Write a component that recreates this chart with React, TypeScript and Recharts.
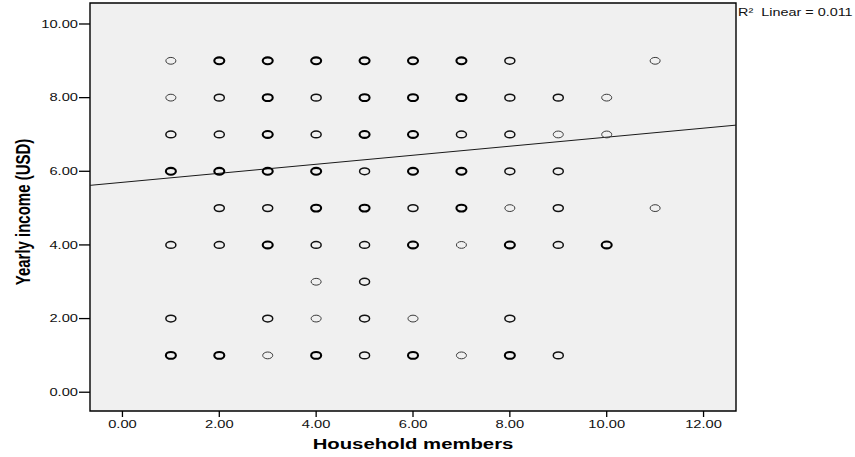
import React from 'react';
import { ScatterChart, Scatter, XAxis, YAxis, ReferenceArea, ReferenceLine } from 'recharts';

// ---- data ----
const xTicks = [0, 2, 4, 6, 8, 10, 12];
const yTicks = [0, 2, 4, 6, 8, 10];
const xDomain: [number, number] = [-0.67, 12.67];
const yDomain: [number, number] = [-0.51, 10.57];

// points drawn with heavy outlines (many overlapping cases)
const heavyPoints: [number, number][] = [
  [2, 9], [3, 9], [4, 9], [5, 9], [6, 9], [7, 9],
  [3, 8], [5, 8], [6, 8], [7, 8],
  [3, 7], [5, 7], [6, 7],
  [1, 6], [2, 6], [3, 6], [4, 6], [6, 6], [7, 6],
  [4, 5], [5, 5], [7, 5],
  [3, 4], [6, 4], [8, 4], [10, 4],
  [1, 1], [2, 1], [4, 1], [6, 1], [8, 1],
];
// points with medium outlines
const mediumPoints: [number, number][] = [
  [8, 9],
  [2, 8], [4, 8], [8, 8], [9, 8],
  [1, 7], [2, 7], [4, 7], [7, 7], [8, 7],
  [5, 6], [8, 6], [9, 6],
  [2, 5], [3, 5], [6, 5], [9, 5],
  [1, 4], [2, 4], [4, 4], [5, 4], [9, 4],
  [5, 3],
  [1, 2], [3, 2], [5, 2], [8, 2],
  [5, 1], [9, 1],
];
// single cases, thin outlines
const lightPoints: [number, number][] = [
  [1, 9], [11, 9],
  [1, 8], [10, 8],
  [9, 7], [10, 7],
  [8, 5], [11, 5],
  [7, 4],
  [4, 3],
  [4, 2], [6, 2],
  [3, 1], [7, 1],
];

const fitIntercept = 5.70;
const fitSlope = 0.1226;
const r2Label = 'R\u00B2  Linear = 0.011';
const xTitle = 'Household members';
const yTitle = 'Yearly income (USD)';

// ---- styling helpers ----
const FONT = '"Liberation Sans", Arial, sans-serif';
const SX = 1.4;

const toPts = (arr: [number, number][]) => arr.map(([x, y]) => ({ x, y }));

const makeShape = (sw: number, color: string) => (props: any) => {
  const { cx, cy } = props;
  if (cx == null || cy == null) return <g />;
  return <ellipse cx={cx} cy={cy} rx={5} ry={3.4} fill="none" stroke={color} strokeWidth={sw} />;
};

const YTick = (props: any) => {
  const { x, y, payload } = props;
  return (
    <g transform={`translate(${x},${y}) scale(${SX},1)`}>
      <text x={0} y={0} dy={3.7} textAnchor="end" fontFamily={FONT} fontSize={10.5} fill="#111">
        {Number(payload.value).toFixed(2)}
      </text>
    </g>
  );
};

const XTick = (props: any) => {
  const { x, y, payload } = props;
  return (
    <g transform={`translate(${x},${y + 9}) scale(${SX},1)`}>
      <text x={0} y={0} textAnchor="middle" fontFamily={FONT} fontSize={10.5} fill="#111">
        {Number(payload.value).toFixed(2)}
      </text>
    </g>
  );
};

const XTitle = (props: any) => {
  const vb = props.viewBox || { x: 90, y: 411, width: 646, height: 46 };
  const cx = vb.x + vb.width / 2;
  const by = vb.y + 38;
  return (
    <g transform={`translate(${cx},${by}) scale(${SX},1)`}>
      <text x={0} y={0} textAnchor="middle" fontFamily={FONT} fontWeight="bold" fontSize={14.5} fill="#000">
        {xTitle}
      </text>
    </g>
  );
};

const YTitle = (props: any) => {
  const vb = props.viewBox || { x: 0, y: 3, width: 90, height: 408 };
  const cy = vb.y + vb.height / 2 + 5;
  return (
    <g transform={`translate(29.5,${cy}) scale(1.3,1) rotate(-90)`}>
      <text x={0} y={0} textAnchor="middle" fontFamily={FONT} fontWeight="bold" fontSize={15} fill="#000">
        {yTitle}
      </text>
    </g>
  );
};

export default function App() {
  const lineSeg = [
    { x: xDomain[0], y: fitIntercept + fitSlope * xDomain[0] },
    { x: xDomain[1], y: fitIntercept + fitSlope * xDomain[1] },
  ];
  return (
    <div style={{ position: 'absolute', left: 0, top: 0, background: '#fff' }}>
      <ScatterChart width={855} height={457} margin={{ top: 3, right: 119, bottom: 0, left: 0 }}>
        <ReferenceArea
          x1={xDomain[0]} x2={xDomain[1]} y1={yDomain[0]} y2={yDomain[1]}
          fill="#f0f0f0" fillOpacity={1} stroke="#000" strokeWidth={1.4} ifOverflow="visible"
        />
        <XAxis
          type="number" dataKey="x" domain={xDomain} ticks={xTicks} allowDataOverflow
          axisLine={false} tickSize={6} tickLine={{ stroke: '#000', strokeWidth: 1.3 }}
          height={46} tick={<XTick />} label={<XTitle />}
        />
        <YAxis
          type="number" dataKey="y" domain={yDomain} ticks={yTicks} allowDataOverflow
          axisLine={false} tickSize={11} tickMargin={1} tickLine={{ stroke: '#000', strokeWidth: 1.3 }}
          width={90} tick={<YTick />} label={<YTitle />}
        />
        <ReferenceLine segment={lineSeg} stroke="#1a1a1a" strokeWidth={1} ifOverflow="visible" />
        <Scatter data={toPts(lightPoints)} shape={makeShape(1, '#3a3a3a')} isAnimationActive={false} />
        <Scatter data={toPts(mediumPoints)} shape={makeShape(1.5, '#111')} isAnimationActive={false} />
        <Scatter data={toPts(heavyPoints)} shape={makeShape(2.1, '#000')} isAnimationActive={false} />
        <g transform={`translate(738,15.5) scale(${SX},1)`}>
          <text x={0} y={0} fontFamily={FONT} fontSize={10.3} fill="#111" style={{ whiteSpace: 'pre' }}>
            {r2Label}
          </text>
        </g>
      </ScatterChart>
    </div>
  );
}
